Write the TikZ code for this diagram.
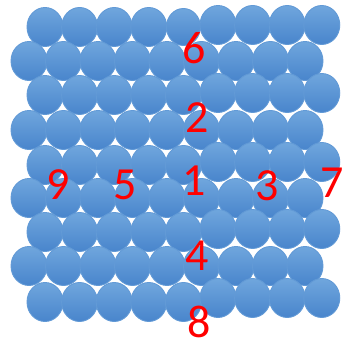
\documentclass[tikz,border=0pt]{standalone}
\usepackage{fontspec}
\setmainfont{Carlito}
\usepackage{tikz}

\definecolor{ballTop}{RGB}{112,166,221}
\definecolor{ballBot}{RGB}{72,133,204}
\definecolor{ballEdge}{RGB}{98,154,214}

\tikzset{
  ball/.style={top color=ballTop, bottom color=ballBot, draw=ballEdge, line width=0.9pt},
  num/.style={text=red, inner sep=0pt, font=\fontsize{46}{46}\selectfont}
}

\begin{document}
\begin{tikzpicture}[x=1pt, y=-1pt]
    \useasboundingbox (0,0) rectangle (345,344);
    % row 1
    \draw[ball] (45.0,27) ellipse (18 and 19.5);
    \draw[ball] (79.6,27) ellipse (18 and 19.5);
    \draw[ball] (114.2,27) ellipse (18 and 19.5);
    \draw[ball] (148.8,27) ellipse (18 and 19.5);
    \draw[ball] (183.4,27) ellipse (17 and 18.5);
    \draw[ball] (218.0,25) ellipse (18 and 19.5);
    \draw[ball] (252.6,25) ellipse (18 and 19.5);
    \draw[ball] (287.2,25) ellipse (18 and 19.5);
    \draw[ball] (321.8,25) ellipse (18 and 19.5);
    % row 2
    \draw[ball] (29.0,61) ellipse (18 and 19.5);
    \draw[ball] (63.5,61) ellipse (18 and 19.5);
    \draw[ball] (98.0,61) ellipse (18 and 19.5);
    \draw[ball] (132.5,61) ellipse (18 and 19.5);
    \draw[ball] (167.0,61) ellipse (18 and 19.5);
    \draw[ball] (201.5,61) ellipse (18 and 19.5);
    \draw[ball] (236.0,61) ellipse (18 and 19.5);
    \draw[ball] (270.5,61) ellipse (18 and 19.5);
    \draw[ball] (305.0,61) ellipse (18 and 19.5);
    % row 3
    \draw[ball] (45.0,95) ellipse (18 and 19.5);
    \draw[ball] (79.6,95) ellipse (18 and 19.5);
    \draw[ball] (114.2,95) ellipse (18 and 19.5);
    \draw[ball] (148.8,95) ellipse (18 and 19.5);
    \draw[ball] (183.4,95) ellipse (18 and 19.5);
    \draw[ball] (218.0,93) ellipse (18 and 19.5);
    \draw[ball] (252.6,93) ellipse (18 and 19.5);
    \draw[ball] (287.2,93) ellipse (18 and 19.5);
    \draw[ball] (321.8,93) ellipse (18 and 19.5);
    % row 4
    \draw[ball] (29.0,130) ellipse (18 and 19.5);
    \draw[ball] (63.5,130) ellipse (18 and 19.5);
    \draw[ball] (98.0,130) ellipse (18 and 19.5);
    \draw[ball] (132.5,130) ellipse (18 and 19.5);
    \draw[ball] (167.0,130) ellipse (18 and 19.5);
    \draw[ball] (201.5,130) ellipse (18 and 19.5);
    \draw[ball] (236.0,130) ellipse (18 and 19.5);
    \draw[ball] (270.5,130) ellipse (18 and 19.5);
    \draw[ball] (305.0,130) ellipse (18 and 19.5);
    % row 5
    \draw[ball] (45.0,165) ellipse (18 and 19.5);
    \draw[ball] (79.6,165) ellipse (18 and 19.5);
    \draw[ball] (114.2,165) ellipse (18 and 19.5);
    \draw[ball] (148.8,165) ellipse (18 and 19.5);
    \draw[ball] (183.4,165) ellipse (18 and 19.5);
    \draw[ball] (218.0,162) ellipse (18 and 19.5);
    \draw[ball] (252.6,162) ellipse (18 and 19.5);
    \draw[ball] (287.2,162) ellipse (18 and 19.5);
    \draw[ball] (321.8,162) ellipse (18 and 19.5);
    % row 6
    \draw[ball] (29.0,198) ellipse (18 and 19.5);
    \draw[ball] (63.5,198) ellipse (18 and 19.5);
    \draw[ball] (98.0,198) ellipse (18 and 19.5);
    \draw[ball] (132.5,198) ellipse (18 and 19.5);
    \draw[ball] (167.0,198) ellipse (18 and 19.5);
    \draw[ball] (201.5,198) ellipse (18 and 19.5);
    \draw[ball] (236.0,198) ellipse (18 and 19.5);
    \draw[ball] (270.5,198) ellipse (18 and 19.5);
    \draw[ball] (305.0,198) ellipse (18 and 19.5);
    % row 7
    \draw[ball] (45.0,232) ellipse (18 and 19.5);
    \draw[ball] (79.6,232) ellipse (18 and 19.5);
    \draw[ball] (114.2,232) ellipse (18 and 19.5);
    \draw[ball] (148.8,232) ellipse (18 and 19.5);
    \draw[ball] (183.4,232) ellipse (18 and 19.5);
    \draw[ball] (218.0,229) ellipse (18 and 19.5);
    \draw[ball] (252.6,229) ellipse (18 and 19.5);
    \draw[ball] (287.2,229) ellipse (18 and 19.5);
    \draw[ball] (321.8,229) ellipse (18 and 19.5);
    % row 8
    \draw[ball] (29.0,266) ellipse (18 and 19.5);
    \draw[ball] (63.5,266) ellipse (18 and 19.5);
    \draw[ball] (98.0,266) ellipse (18 and 19.5);
    \draw[ball] (132.5,266) ellipse (18 and 19.5);
    \draw[ball] (167.0,266) ellipse (18 and 19.5);
    \draw[ball] (201.5,266) ellipse (18 and 19.5);
    \draw[ball] (236.0,266) ellipse (18 and 19.5);
    \draw[ball] (270.5,266) ellipse (18 and 19.5);
    \draw[ball] (305.0,266) ellipse (18 and 19.5);
    % row 9
    \draw[ball] (45.0,302) ellipse (18 and 19.5);
    \draw[ball] (79.6,302) ellipse (18 and 19.5);
    \draw[ball] (114.2,302) ellipse (18 and 19.5);
    \draw[ball] (148.8,302) ellipse (18 and 19.5);
    \draw[ball] (183.4,302) ellipse (18 and 19.5);
    \draw[ball] (218.0,298) ellipse (18 and 19.5);
    \draw[ball] (252.6,298) ellipse (18 and 19.5);
    \draw[ball] (287.2,298) ellipse (18 and 19.5);
    \draw[ball] (321.8,298) ellipse (18 and 19.5);
    % numbers
    \node[num] (n6) at (194,48) {6};
    \node[num] (n2) at (197,118) {2};
    \node[num] (n1) at (194,181) {1};
    \node[num] (n9) at (58,185) {9};
    \node[num] (n5) at (125,185) {5};
    \node[num] (n3) at (267,186) {3};
    \node[num] (n7) at (332,183) {7};
    \node[num] (n4) at (197,256) {4};
    \node[num] (n8) at (199,322) {8};
\end{tikzpicture}
\end{document}
